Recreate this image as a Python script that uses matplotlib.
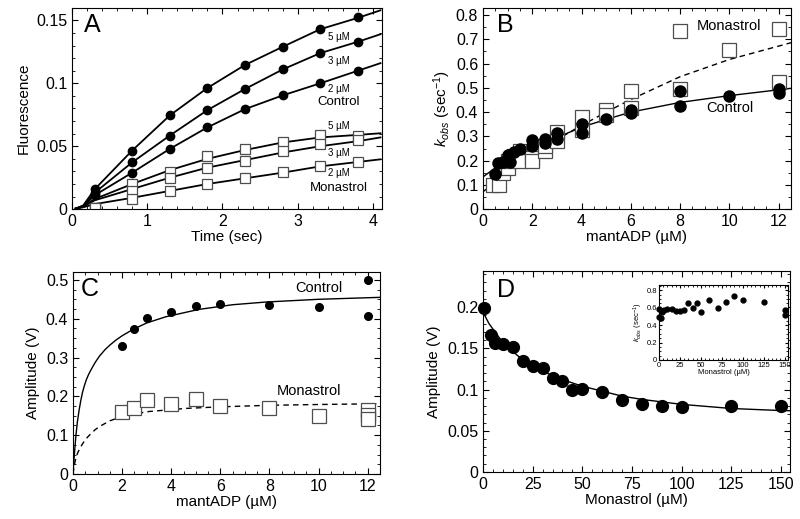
import numpy as np
import matplotlib
matplotlib.use("Agg")
import matplotlib.pyplot as plt
from matplotlib.ticker import MultipleLocator

plt.rcParams['font.family'] = ['Liberation Sans', 'DejaVu Sans']
plt.rcParams['mathtext.fontset'] = 'custom'
plt.rcParams['mathtext.rm'] = 'Liberation Sans'
plt.rcParams['mathtext.it'] = 'Liberation Sans:italic'

# ---- Panel A: fluorescence transients ----
t_mark = [0.3, 0.8, 1.3, 1.8, 2.3, 2.8, 3.3, 3.8]
t_line = [0.05, 0.15, 0.3, 0.8, 1.3, 1.8, 2.3, 2.8, 3.3, 3.8, 4.1]

ctl5_line = [0.0005, 0.003, 0.0157, 0.0466, 0.0745, 0.0963, 0.1146, 0.129, 0.143, 0.152, 0.158]
ctl3_line = [0.0005, 0.0025, 0.013, 0.0372, 0.0585, 0.0787, 0.0955, 0.111, 0.124, 0.133, 0.139]
ctl2_line = [0.0005, 0.002, 0.011, 0.029, 0.0479, 0.065, 0.0795, 0.0904, 0.100, 0.110, 0.116]
ctl5_mark = [0.0157, 0.0466, 0.0745, 0.0963, 0.1146, 0.129, 0.143, 0.153]
ctl3_mark = [0.013, 0.0372, 0.0585, 0.0787, 0.0955, 0.111, 0.124, 0.1325]
ctl2_mark = [0.011, 0.029, 0.0479, 0.065, 0.0795, 0.0904, 0.100, 0.110]

mon5_line = [0.0005, 0.002, 0.008, 0.020, 0.031, 0.040, 0.047, 0.053, 0.057, 0.059, 0.0603]
mon3_line = [0.0005, 0.002, 0.007, 0.016, 0.025, 0.033, 0.039, 0.045, 0.050, 0.054, 0.057]
mon2_line = [0.0005, 0.0015, 0.004, 0.009, 0.0145, 0.020, 0.0245, 0.029, 0.034, 0.0375, 0.0396]
mon5_mark = [0.0013, 0.020, 0.0297, 0.0425, 0.0476, 0.0536, 0.059, 0.0584]
mon3_mark = [0.0013, 0.0146, 0.0245, 0.0329, 0.0385, 0.0465, 0.0518, 0.055]
mon2_mark = [0.0013, 0.008, 0.0146, 0.020, 0.0245, 0.0292, 0.0345, 0.0377]

# ---- Panel B: kobs vs mantADP ----
b_ctl_x = [0.5, 0.6, 0.8, 1.0, 1.1, 1.25, 1.5, 2, 2, 2.5, 2.5, 3, 3, 4, 4, 5, 6, 6, 8, 8, 10, 12, 12]
b_ctl_y = [0.143, 0.191, 0.195, 0.223, 0.195, 0.236, 0.246, 0.285, 0.260, 0.291, 0.271, 0.312, 0.291,
           0.350, 0.312, 0.371, 0.408, 0.395, 0.485, 0.425, 0.467, 0.494, 0.478]
b_mon_x = [0.4, 0.65, 0.8, 1.0, 1.0, 1.25, 1.5, 1.5, 2, 2, 2.5, 2.5, 3, 3, 4, 4, 5, 5, 6, 6, 8, 8, 10, 12, 12]
b_mon_y = [0.10, 0.10, 0.15, 0.17, 0.20, 0.22, 0.24, 0.20, 0.21, 0.20, 0.24, 0.26, 0.32, 0.28,
           0.381, 0.326, 0.408, 0.39, 0.488, 0.418, 0.735, 0.494, 0.658, 0.741, 0.525]
b_ctl_fit_x = [0, 0.5, 1, 1.5, 2, 3, 4, 5, 6, 8, 10, 12, 12.5]
b_ctl_fit_y = [0.133, 0.17, 0.2, 0.225, 0.25, 0.295, 0.338, 0.37, 0.40, 0.44, 0.468, 0.492, 0.498]
b_mon_fit_x = [0, 1, 2, 3, 4, 5, 6, 8, 10, 12.5]
b_mon_fit_y = [0.072, 0.148, 0.22, 0.287, 0.345, 0.40, 0.452, 0.546, 0.617, 0.686]

# ---- Panel C: amplitude vs mantADP ----
c_ctl_x = [2, 2.5, 3, 4, 5, 6, 8, 10, 12, 12]
c_ctl_y = [0.330, 0.374, 0.401, 0.418, 0.433, 0.438, 0.436, 0.431, 0.50, 0.407]
c_mon_x = [2, 2.5, 3, 4, 5, 6, 8, 10, 12, 12, 12]
c_mon_y = [0.160, 0.170, 0.190, 0.181, 0.194, 0.174, 0.170, 0.150, 0.165, 0.153, 0.142]
c_ctl_fit_x = [0, 0.03, 0.07, 0.12, 0.18, 0.25, 0.32, 0.39, 0.47, 0.55, 0.64, 0.73, 0.9, 1.07, 1.3,
               1.5, 1.75, 2.0, 2.43, 3.0, 3.78, 5.13, 6.5, 7.87, 10, 12.5]
c_ctl_fit_y = [0, 0.028, 0.062, 0.10, 0.135, 0.165, 0.19, 0.211, 0.229, 0.244, 0.257, 0.268, 0.287,
               0.303, 0.320, 0.332, 0.345, 0.356, 0.372, 0.389, 0.405, 0.424, 0.436, 0.443, 0.45, 0.455]
c_mon_fit_x = [0, 0.05, 0.12, 0.2, 0.3, 0.39, 0.55, 0.7, 0.9, 1.07, 1.5, 1.95, 2.5, 3.1, 4.6, 6, 8, 10, 12.5]
c_mon_fit_y = [0, 0.022, 0.042, 0.056, 0.068, 0.078, 0.092, 0.102, 0.114, 0.122, 0.137, 0.147, 0.155,
               0.161, 0.169, 0.173, 0.177, 0.179, 0.181]

# ---- Panel D: amplitude vs monastrol ----
d_x = [0.5, 4, 6, 10, 15, 20, 25, 30, 35, 40, 45, 50, 60, 70, 80, 90, 100, 125, 150]
d_y = [0.199, 0.166, 0.157, 0.155, 0.151, 0.1345, 0.129, 0.126, 0.114, 0.110, 0.099, 0.1006,
       0.0974, 0.0878, 0.0824, 0.0804, 0.0792, 0.080, 0.080]
d_fit_x = [0, 3, 6, 10, 15, 20, 30, 40, 50, 60, 70, 80, 90, 100, 125, 150, 154.5]
d_fit_y = [0.194, 0.18, 0.170, 0.157, 0.146, 0.136, 0.122, 0.112, 0.104, 0.098, 0.092, 0.088,
           0.085, 0.082, 0.077, 0.0745, 0.0743]

# inset: kobs vs monastrol
ins_x = [0, 0, 2, 4, 6, 10, 15, 20, 25, 30, 35, 40, 45, 50, 60, 70, 80, 90, 100, 125, 150, 150]
ins_y = [0.49, 0.58, 0.48, 0.55, 0.57, 0.58, 0.58, 0.565, 0.56, 0.57, 0.655, 0.60, 0.65, 0.55,
         0.685, 0.595, 0.66, 0.73, 0.69, 0.66, 0.57, 0.515]


def style(ax, xmaj, xmin, ymaj, ymin, size=11.5, length=4):
    ax.xaxis.set_major_locator(MultipleLocator(xmaj))
    ax.xaxis.set_minor_locator(MultipleLocator(xmin))
    ax.yaxis.set_major_locator(MultipleLocator(ymaj))
    ax.yaxis.set_minor_locator(MultipleLocator(ymin))
    ax.tick_params(which='both', direction='in', top=True, right=True, labelsize=size)
    ax.tick_params(which='major', length=length)
    ax.tick_params(which='minor', length=length * 0.55)


fig = plt.figure(figsize=(8, 5.19), dpi=100)

open_sq = dict(marker='s', mfc='white', mec='0.3', mew=0.9, ls='none')

# A
axA = fig.add_axes([0.09, 0.597, 0.3875, 0.388])
for yl in [ctl5_line, ctl3_line, ctl2_line, mon5_line, mon3_line, mon2_line]:
    axA.plot(t_line, yl, color='black', lw=1.3)
for ym in [ctl5_mark, ctl3_mark, ctl2_mark]:
    axA.plot(t_mark, ym, 'o', color='black', ms=6)
for ym in [mon5_mark, mon3_mark, mon2_mark]:
    axA.plot(t_mark, ym, ms=7, **open_sq)
axA.set_xlim(0, 4.12)
axA.set_ylim(0, 0.16)
style(axA, 1, 0.2, 0.05, 0.01)
axA.set_yticks([0, 0.05, 0.1, 0.15])
axA.set_yticklabels(['0', '0.05', '0.1', '0.15'])
axA.set_xlabel('Time (sec)', fontsize=11, labelpad=1)
axA.set_ylabel('Fluorescence', fontsize=11)
axA.text(0.04, 0.975, 'A', transform=axA.transAxes, fontsize=18, va='top')
for txt, y, fs in [('5 µM', 0.137, 7), ('3 µM', 0.118, 7), ('2 µM', 0.0954, 7), ('Control', 0.0855, 9.5),
                   ('5 µM', 0.066, 7), ('3 µM', 0.045, 7), ('2 µM', 0.0285, 7), ('Monastrol', 0.0165, 9.5)]:
    axA.text(3.55, y, txt, fontsize=fs, ha='center', va='center')

# B
axB = fig.add_axes([0.60375, 0.597, 0.385, 0.388])
axB.plot(b_ctl_fit_x, b_ctl_fit_y, color='black', lw=1)
axB.plot(b_mon_fit_x, b_mon_fit_y, color='black', lw=1, ls=(0, (4, 3)))
axB.plot(b_mon_x, b_mon_y, ms=10, **open_sq)
axB.plot(b_ctl_x, b_ctl_y, 'o', color='black', ms=8)
axB.set_xlim(0, 12.5)
axB.set_ylim(0, 0.83)
style(axB, 2, 0.5, 0.1, 0.05)
axB.set_yticks(np.arange(0, 0.81, 0.1))
axB.set_yticklabels(['0', '0.1', '0.2', '0.3', '0.4', '0.5', '0.6', '0.7', '0.8'])
axB.set_xlabel('mantADP (µM)', fontsize=11, labelpad=1)
axB.set_ylabel('$k_{obs}$ (sec$^{-1}$)', fontsize=11, labelpad=2)
axB.text(0.045, 0.975, 'B', transform=axB.transAxes, fontsize=18, va='top')
axB.text(10.0, 0.755, 'Monastrol', fontsize=10.5, ha='center', va='center')
axB.text(10.0, 0.418, 'Control', fontsize=10.5, ha='center', va='center')

# C
axC = fig.add_axes([0.09125, 0.0867, 0.38375, 0.389])
axC.plot(c_ctl_fit_x, c_ctl_fit_y, color='black', lw=1)
axC.plot(c_mon_fit_x, c_mon_fit_y, color='black', lw=1, ls=(0, (4, 3)))
axC.plot(c_ctl_x, c_ctl_y, 'o', color='black', ms=5.5, clip_on=False)
axC.plot(c_mon_x, c_mon_y, ms=9.5, **open_sq)
axC.set_xlim(0, 12.5)
axC.set_ylim(0, 0.52)
style(axC, 2, 0.5, 0.1, 0.025)
axC.set_yticks(np.arange(0, 0.51, 0.1))
axC.set_yticklabels(['0', '0.1', '0.2', '0.3', '0.4', '0.5'])
axC.set_xlabel('mantADP (µM)', fontsize=11, labelpad=1)
axC.set_ylabel('Amplitude (V)', fontsize=11)
axC.text(0.025, 0.975, 'C', transform=axC.transAxes, fontsize=18, va='top')
axC.text(10.0, 0.48, 'Control', fontsize=10.5, ha='center', va='center')
axC.text(9.6, 0.214, 'Monastrol', fontsize=10.5, ha='center', va='center')

# D
axD = fig.add_axes([0.60375, 0.0906, 0.38375, 0.387])
axD.plot(d_fit_x, d_fit_y, color='black', lw=1)
axD.plot(d_x, d_y, 'o', color='black', ms=8.5, clip_on=False)
axD.set_xlim(0, 154.5)
axD.set_ylim(0, 0.2436)
style(axD, 25, 5, 0.05, 0.01)
axD.set_yticks([0, 0.05, 0.1, 0.15, 0.2])
axD.set_yticklabels(['0', '0.05', '0.1', '0.15', '0.2'])
axD.set_xlabel('Monastrol (µM)', fontsize=11, labelpad=1)
axD.set_ylabel('Amplitude (V)', fontsize=11)
axD.text(0.045, 0.965, 'D', transform=axD.transAxes, fontsize=18, va='top')

axI = fig.add_axes([0.82375, 0.3064, 0.16125, 0.1445])
axI.plot(ins_x, ins_y, 'o', color='black', ms=3.5, clip_on=False)
axI.set_xlim(0, 154)
axI.set_ylim(0, 0.86)
style(axI, 25, 5, 0.2, 0.05, size=5.5, length=2)
axI.set_yticks([0, 0.2, 0.4, 0.6, 0.8])
axI.set_yticklabels(['0', '0.2', '0.4', '0.6', '0.8'])
axI.tick_params(pad=1.5)
axI.set_xlabel('Monastrol (µM)', fontsize=5.5, labelpad=0)
axI.set_ylabel('$k_{obs}$ (sec$^{-1}$)', fontsize=5.5, labelpad=1)

fig.savefig('out.png', dpi=100)
